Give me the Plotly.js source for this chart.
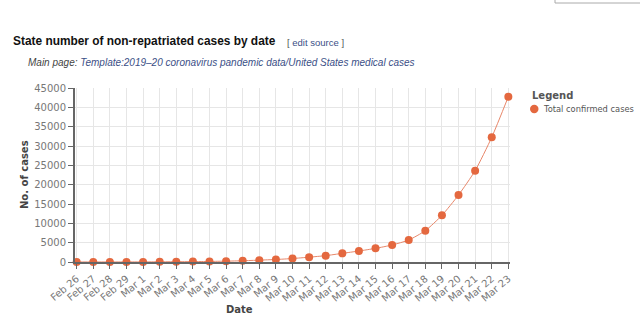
<!DOCTYPE html>
<html>
<head>
<meta charset="utf-8">
<script src="https://cdn.plot.ly/plotly-3.0.1.min.js"></script>
<style>
html,body{margin:0;padding:0;background:#fff;}
#chart{width:640px;height:326px;}
</style>
</head>
<body>
<div id="chart"></div>
<script>
const dates = ["Feb 26","Feb 27","Feb 28","Feb 29","Mar 1","Mar 2","Mar 3","Mar 4","Mar 5","Mar 6","Mar 7","Mar 8","Mar 9","Mar 10","Mar 11","Mar 12","Mar 13","Mar 14","Mar 15","Mar 16","Mar 17","Mar 18","Mar 19","Mar 20","Mar 21","Mar 22","Mar 23"];
const totalConfirmed = [15,15,16,24,30,53,73,100,150,220,320,480,650,900,1250,1640,2240,2840,3530,4400,5690,8100,12070,17330,23620,32250,42750];
const yTicks = [0,5000,10000,15000,20000,25000,30000,35000,40000,45000];
const seriesName = "Total confirmed cases";

const L = 75, R = 510, T = 88, B = 262;
const W = R - L, H = B - T;
const px = x => (x - L) / W;
const py = y => 1 - (y - T) / H;

const orange = "#e4683f";
const traces = [
  {x: dates, y: totalConfirmed, type: "scatter", mode: "lines+markers", name: seriesName,
   line: {color: "#e8876a", width: 1, shape: "spline", smoothing: 0.6},
   marker: {color: orange, size: 8}, showlegend: false, cliponaxis: false}
];

const layout = {
  width: 640, height: 326,
  margin: {l: L, r: 640 - R, t: T, b: 326 - B, pad: 0, autoexpand: false},
  paper_bgcolor: "#fff", plot_bgcolor: "#fff",
  font: {family: "DejaVu Sans", color: "#666"},
  showlegend: false,
  xaxis: {
    type: "category", range: [-0.1, 26.1], tickvals: dates, ticktext: dates,
    tickangle: -40, tickfont: {size: 10, color: "#777"},
    showgrid: true, gridcolor: "#e6e6e6", gridwidth: 1,
    showline: true, linecolor: "#666", linewidth: 2,
    ticks: "outside", ticklen: 5, tickcolor: "#666", tickwidth: 1,
    zeroline: false, fixedrange: true, automargin: false
  },
  yaxis: {
    range: [0, 45000], tickvals: yTicks, ticktext: yTicks.map(String),
    tickfont: {size: 10, color: "#777"},
    showgrid: true, gridcolor: "#e6e6e6", gridwidth: 1,
    showline: true, linecolor: "#666", linewidth: 2,
    ticks: "outside", ticklen: 5, tickcolor: "#666", tickwidth: 1,
    zeroline: false, fixedrange: true, automargin: false
  },
  annotations: [
    {text: "<b>State number of non-repatriated cases by date</b>", xref: "paper", yref: "paper",
     x: px(10.5), y: py(41), xanchor: "left", yanchor: "middle", showarrow: false,
     font: {family: "Liberation Sans, Arial", size: 11.9, color: "#111"}},
    {text: "[ <span style='color:#3b4f86'>edit source</span> ]", xref: "paper", yref: "paper",
     x: px(284.5), y: py(42), xanchor: "left", yanchor: "middle", showarrow: false,
     font: {family: "Liberation Sans, Arial", size: 9.5, color: "#555"}},
    {text: "<i>Main page: <span style='color:#3b4f86'>Template:2019–20 coronavirus pandemic data/United States medical cases</span></i>",
     xref: "paper", yref: "paper", x: px(25.5), y: py(62), xanchor: "left", yanchor: "middle", showarrow: false,
     font: {family: "Liberation Sans, Arial", size: 10, color: "#444"}},
    {text: "<b>No. of cases</b>", xref: "paper", yref: "paper", x: px(24), y: py(175),
     xanchor: "center", yanchor: "middle", textangle: -90, showarrow: false,
     font: {family: "DejaVu Sans", size: 10, color: "#444"}},
    {text: "<b>Date</b>", xref: "paper", yref: "paper", x: px(239), y: py(309),
     xanchor: "center", yanchor: "middle", showarrow: false,
     font: {family: "DejaVu Sans", size: 10, color: "#444"}},
    {text: "<b>Legend</b>", xref: "paper", yref: "paper", x: px(530), y: py(96),
     xanchor: "left", yanchor: "middle", showarrow: false,
     font: {family: "DejaVu Sans", size: 10, color: "#555"}},
    {text: seriesName, xref: "paper", yref: "paper", x: px(540.5), y: py(109),
     xanchor: "left", yanchor: "middle", showarrow: false,
     font: {family: "DejaVu Sans", size: 8.3, color: "#555"}}
  ],
  shapes: [
    {type: "circle", xref: "paper", yref: "paper", x0: px(530), x1: px(538.5), y0: py(104.8), y1: py(113.2),
     line: {width: 0}, fillcolor: orange},
    {type: "rect", xref: "paper", yref: "paper", x0: px(555), x1: px(650), y0: py(3), y1: py(-6),
     line: {color: "#aaa", width: 1}, fillcolor: "rgba(0,0,0,0)"}
  ]
};

Plotly.newPlot("chart", traces, layout, {displayModeBar: false, staticPlot: true});
</script>
</body>
</html>
